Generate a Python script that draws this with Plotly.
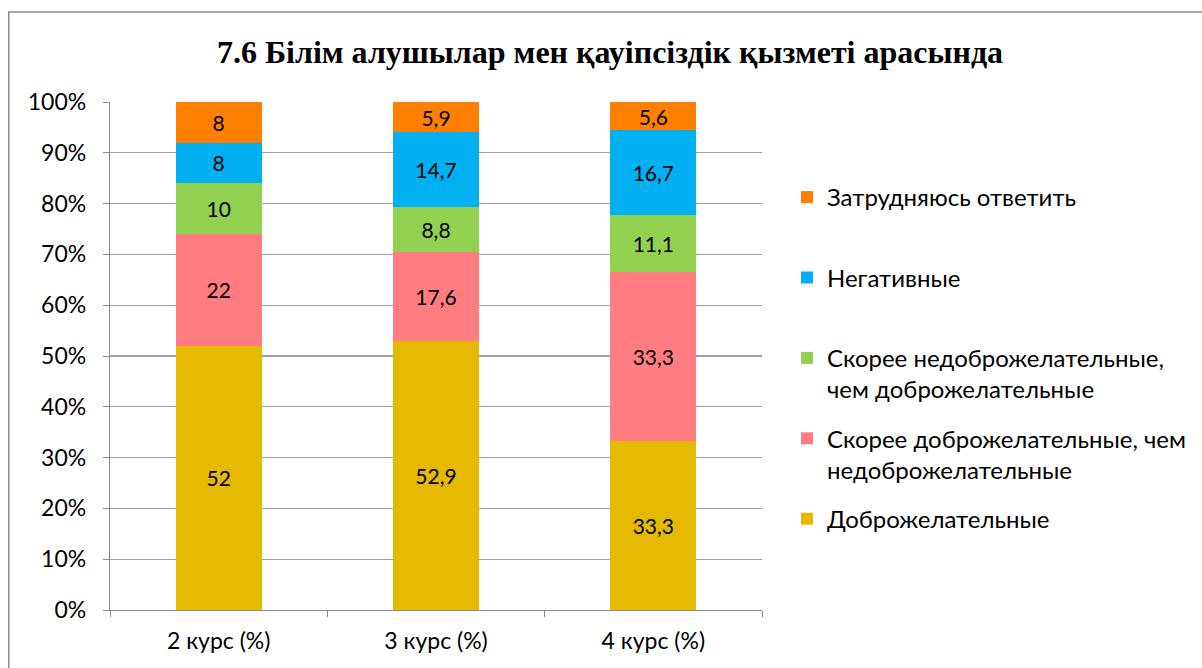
import plotly.graph_objects as go

categories = ["2 курс (%)", "3 курс (%)", "4 курс (%)"]
series_names = [
    "Доброжелательные",
    "Скорее доброжелательные, чем<br>недоброжелательные",
    "Скорее недоброжелательные,<br>чем доброжелательные",
    "Негативные",
    "Затрудняюсь ответить",
]
dobro = [52, 52.9, 33.3]
skoree_dobro = [22, 17.6, 33.3]
skoree_nedobro = [10, 8.8, 11.1]
negativ = [8, 14.7, 16.7]
zatrud = [8, 5.9, 5.6]
colors = ["#E5B900", "#FF7C80", "#92D050", "#00B0F0", "#FF8000"]
y_ticks = [0, 10, 20, 30, 40, 50, 60, 70, 80, 90, 100]

FONT = "Lato"
W, H = 1202, 668
L, R, T, B = 110, 440, 102, 58
pw, ph = W - L - R, H - T - B

fig = go.Figure()
all_series = [dobro, skoree_dobro, skoree_nedobro, negativ, zatrud]
n = len(all_series)
for i, (name, vals, col) in enumerate(zip(series_names, all_series, colors)):
    label = name if "<br>" in name else name + "<br>\u00a0"
    fig.add_trace(go.Bar(
        x=categories, y=vals, name=label,
        marker=dict(color=col, line=dict(width=0)),
        text=[("%g" % v).replace(".", ",") for v in vals],
        textposition="inside", insidetextanchor="middle",
        textangle=0, constraintext="none",
        textfont=dict(family=FONT, size=21, color="black"),
        legendgroup="g%d" % i, legendrank=n - i,
        hoverinfo="skip",
    ))

fig.update_layout(
    width=W, height=H,
    barmode="stack", barnorm="percent", bargap=0.604,
    margin=dict(l=L, r=R, t=T, b=B, pad=0, autoexpand=False),
    paper_bgcolor="white", plot_bgcolor="white",
    font=dict(family=FONT, size=21, color="black"),
    title=dict(
        text="<b>7.6 Білім алушылар мен қауіпсіздік қызметі арасында</b>",
        font=dict(family="Liberation Serif", size=32, color="black"),
        x=610 / W, xanchor="center", xref="container",
        y=1 - 52 / H, yanchor="middle", yref="container",
    ),
    showlegend=True,
    legend=dict(
        x=(787 - L) / pw, xanchor="left",
        y=(H - B - 175) / ph, yanchor="top",
        traceorder="grouped",
        tracegroupgap=15,
        valign="top",
        font=dict(family=FONT, size=24, color="black"),
        bgcolor="rgba(0,0,0,0)",
        itemclick=False, itemdoubleclick=False,
    ),
    xaxis=dict(
        showline=True, linecolor="#8C8C8C", linewidth=1.2,
        ticks="outside", ticklen=6, tickcolor="#8C8C8C",
        tickson="boundaries", showgrid=False,
        ticklabelstandoff=10, automargin=False,
        tickfont=dict(family=FONT, size=23, color="black"),
        fixedrange=True,
    ),
    yaxis=dict(
        range=[0, 100], tickvals=y_ticks,
        ticktext=["%d%%" % v for v in y_ticks],
        showgrid=True, gridcolor="#A0A0A0", gridwidth=1.2,
        showline=True, linecolor="#8C8C8C", linewidth=1.2,
        ticks="outside", ticklen=6, tickcolor="#8C8C8C",
        ticklabelstandoff=12, automargin=False,
        tickfont=dict(family=FONT, size=23, color="black"),
        zeroline=False, fixedrange=True,
    ),
)

# outer chart frame (as in the source image, it runs past the right/bottom edges)
fig.add_shape(
    type="rect", xref="paper", yref="paper",
    x0=(8.75 - L) / pw, x1=(W + 40 - L) / pw,
    y0=-(80) / ph, y1=(H - B - 12) / ph,
    line=dict(color="#8C8C8C", width=1.5), fillcolor="rgba(0,0,0,0)",
    layer="below",
)

fig.write_html(
    "out.html",
    config={"displayModeBar": False, "staticPlot": True},
    post_script=(
        "document.body.style.margin='0';"
        "document.body.style.overflow='hidden';"
        "document.documentElement.style.overflow='hidden';"
    ),
)
